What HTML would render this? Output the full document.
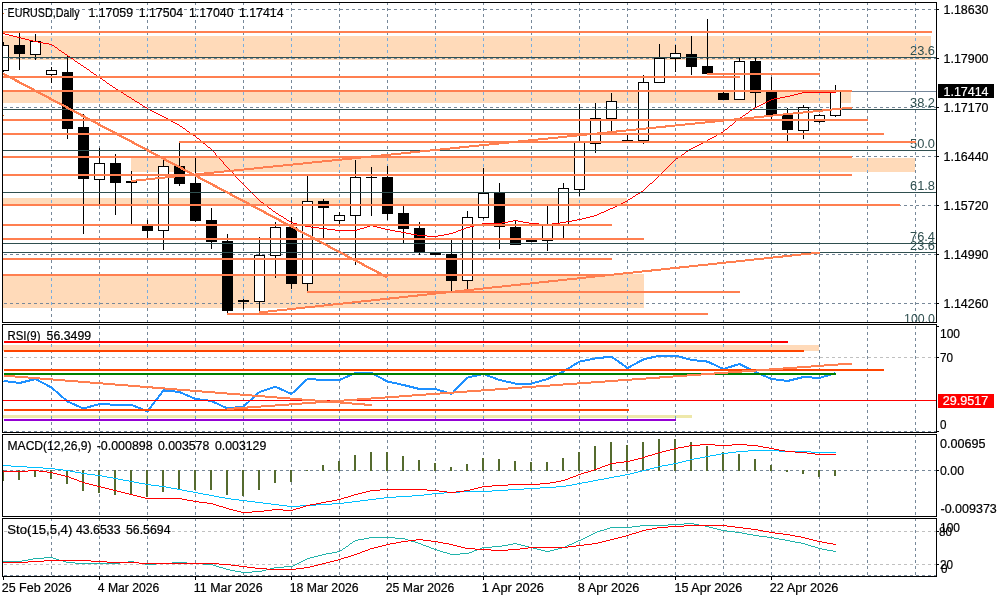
<!DOCTYPE html>
<html lang="en">
<head>
<meta charset="utf-8">
<title>EURUSD, Daily</title>
<style>
html,body{margin:0;padding:0;background:#fff;}
body{width:1000px;height:600px;overflow:hidden;}
svg{display:block;}
text{font-family:"Liberation Sans",sans-serif;}
</style>
</head>
<body>
<svg width="1000" height="600" viewBox="0 0 1000 600">
<rect x="0" y="0" width="1000" height="600" fill="#fff"/>
<defs><clipPath id="mainclip"><rect x="3" y="3" width="933" height="319"/></clipPath></defs>
<g shape-rendering="crispEdges">
<line x1="51.5" y1="2" x2="51.5" y2="322" stroke="#778899" stroke-width="1" stroke-dasharray="3 3" stroke-dashoffset="0"/>
<line x1="51.5" y1="324" x2="51.5" y2="432" stroke="#778899" stroke-width="1" stroke-dasharray="3 3" stroke-dashoffset="4"/>
<line x1="51.5" y1="434" x2="51.5" y2="516" stroke="#778899" stroke-width="1" stroke-dasharray="3 3" stroke-dashoffset="0"/>
<line x1="51.5" y1="518" x2="51.5" y2="576" stroke="#778899" stroke-width="1" stroke-dasharray="3 3" stroke-dashoffset="0"/>
<line x1="99.5" y1="2" x2="99.5" y2="322" stroke="#778899" stroke-width="1" stroke-dasharray="3 3" stroke-dashoffset="0"/>
<line x1="99.5" y1="324" x2="99.5" y2="432" stroke="#778899" stroke-width="1" stroke-dasharray="3 3" stroke-dashoffset="4"/>
<line x1="99.5" y1="434" x2="99.5" y2="516" stroke="#778899" stroke-width="1" stroke-dasharray="3 3" stroke-dashoffset="0"/>
<line x1="99.5" y1="518" x2="99.5" y2="576" stroke="#778899" stroke-width="1" stroke-dasharray="3 3" stroke-dashoffset="0"/>
<line x1="147.5" y1="2" x2="147.5" y2="322" stroke="#778899" stroke-width="1" stroke-dasharray="3 3" stroke-dashoffset="0"/>
<line x1="147.5" y1="324" x2="147.5" y2="432" stroke="#778899" stroke-width="1" stroke-dasharray="3 3" stroke-dashoffset="4"/>
<line x1="147.5" y1="434" x2="147.5" y2="516" stroke="#778899" stroke-width="1" stroke-dasharray="3 3" stroke-dashoffset="0"/>
<line x1="147.5" y1="518" x2="147.5" y2="576" stroke="#778899" stroke-width="1" stroke-dasharray="3 3" stroke-dashoffset="0"/>
<line x1="195.5" y1="2" x2="195.5" y2="322" stroke="#778899" stroke-width="1" stroke-dasharray="3 3" stroke-dashoffset="0"/>
<line x1="195.5" y1="324" x2="195.5" y2="432" stroke="#778899" stroke-width="1" stroke-dasharray="3 3" stroke-dashoffset="4"/>
<line x1="195.5" y1="434" x2="195.5" y2="516" stroke="#778899" stroke-width="1" stroke-dasharray="3 3" stroke-dashoffset="0"/>
<line x1="195.5" y1="518" x2="195.5" y2="576" stroke="#778899" stroke-width="1" stroke-dasharray="3 3" stroke-dashoffset="0"/>
<line x1="243.5" y1="2" x2="243.5" y2="322" stroke="#778899" stroke-width="1" stroke-dasharray="3 3" stroke-dashoffset="0"/>
<line x1="243.5" y1="324" x2="243.5" y2="432" stroke="#778899" stroke-width="1" stroke-dasharray="3 3" stroke-dashoffset="4"/>
<line x1="243.5" y1="434" x2="243.5" y2="516" stroke="#778899" stroke-width="1" stroke-dasharray="3 3" stroke-dashoffset="0"/>
<line x1="243.5" y1="518" x2="243.5" y2="576" stroke="#778899" stroke-width="1" stroke-dasharray="3 3" stroke-dashoffset="0"/>
<line x1="291.5" y1="2" x2="291.5" y2="322" stroke="#778899" stroke-width="1" stroke-dasharray="3 3" stroke-dashoffset="0"/>
<line x1="291.5" y1="324" x2="291.5" y2="432" stroke="#778899" stroke-width="1" stroke-dasharray="3 3" stroke-dashoffset="4"/>
<line x1="291.5" y1="434" x2="291.5" y2="516" stroke="#778899" stroke-width="1" stroke-dasharray="3 3" stroke-dashoffset="0"/>
<line x1="291.5" y1="518" x2="291.5" y2="576" stroke="#778899" stroke-width="1" stroke-dasharray="3 3" stroke-dashoffset="0"/>
<line x1="339.5" y1="2" x2="339.5" y2="322" stroke="#778899" stroke-width="1" stroke-dasharray="3 3" stroke-dashoffset="0"/>
<line x1="339.5" y1="324" x2="339.5" y2="432" stroke="#778899" stroke-width="1" stroke-dasharray="3 3" stroke-dashoffset="4"/>
<line x1="339.5" y1="434" x2="339.5" y2="516" stroke="#778899" stroke-width="1" stroke-dasharray="3 3" stroke-dashoffset="0"/>
<line x1="339.5" y1="518" x2="339.5" y2="576" stroke="#778899" stroke-width="1" stroke-dasharray="3 3" stroke-dashoffset="0"/>
<line x1="387.5" y1="2" x2="387.5" y2="322" stroke="#778899" stroke-width="1" stroke-dasharray="3 3" stroke-dashoffset="0"/>
<line x1="387.5" y1="324" x2="387.5" y2="432" stroke="#778899" stroke-width="1" stroke-dasharray="3 3" stroke-dashoffset="4"/>
<line x1="387.5" y1="434" x2="387.5" y2="516" stroke="#778899" stroke-width="1" stroke-dasharray="3 3" stroke-dashoffset="0"/>
<line x1="387.5" y1="518" x2="387.5" y2="576" stroke="#778899" stroke-width="1" stroke-dasharray="3 3" stroke-dashoffset="0"/>
<line x1="435.5" y1="2" x2="435.5" y2="322" stroke="#778899" stroke-width="1" stroke-dasharray="3 3" stroke-dashoffset="0"/>
<line x1="435.5" y1="324" x2="435.5" y2="432" stroke="#778899" stroke-width="1" stroke-dasharray="3 3" stroke-dashoffset="4"/>
<line x1="435.5" y1="434" x2="435.5" y2="516" stroke="#778899" stroke-width="1" stroke-dasharray="3 3" stroke-dashoffset="0"/>
<line x1="435.5" y1="518" x2="435.5" y2="576" stroke="#778899" stroke-width="1" stroke-dasharray="3 3" stroke-dashoffset="0"/>
<line x1="483.5" y1="2" x2="483.5" y2="322" stroke="#778899" stroke-width="1" stroke-dasharray="3 3" stroke-dashoffset="0"/>
<line x1="483.5" y1="324" x2="483.5" y2="432" stroke="#778899" stroke-width="1" stroke-dasharray="3 3" stroke-dashoffset="4"/>
<line x1="483.5" y1="434" x2="483.5" y2="516" stroke="#778899" stroke-width="1" stroke-dasharray="3 3" stroke-dashoffset="0"/>
<line x1="483.5" y1="518" x2="483.5" y2="576" stroke="#778899" stroke-width="1" stroke-dasharray="3 3" stroke-dashoffset="0"/>
<line x1="531.5" y1="2" x2="531.5" y2="322" stroke="#778899" stroke-width="1" stroke-dasharray="3 3" stroke-dashoffset="0"/>
<line x1="531.5" y1="324" x2="531.5" y2="432" stroke="#778899" stroke-width="1" stroke-dasharray="3 3" stroke-dashoffset="4"/>
<line x1="531.5" y1="434" x2="531.5" y2="516" stroke="#778899" stroke-width="1" stroke-dasharray="3 3" stroke-dashoffset="0"/>
<line x1="531.5" y1="518" x2="531.5" y2="576" stroke="#778899" stroke-width="1" stroke-dasharray="3 3" stroke-dashoffset="0"/>
<line x1="579.5" y1="2" x2="579.5" y2="322" stroke="#778899" stroke-width="1" stroke-dasharray="3 3" stroke-dashoffset="0"/>
<line x1="579.5" y1="324" x2="579.5" y2="432" stroke="#778899" stroke-width="1" stroke-dasharray="3 3" stroke-dashoffset="4"/>
<line x1="579.5" y1="434" x2="579.5" y2="516" stroke="#778899" stroke-width="1" stroke-dasharray="3 3" stroke-dashoffset="0"/>
<line x1="579.5" y1="518" x2="579.5" y2="576" stroke="#778899" stroke-width="1" stroke-dasharray="3 3" stroke-dashoffset="0"/>
<line x1="627.5" y1="2" x2="627.5" y2="322" stroke="#778899" stroke-width="1" stroke-dasharray="3 3" stroke-dashoffset="0"/>
<line x1="627.5" y1="324" x2="627.5" y2="432" stroke="#778899" stroke-width="1" stroke-dasharray="3 3" stroke-dashoffset="4"/>
<line x1="627.5" y1="434" x2="627.5" y2="516" stroke="#778899" stroke-width="1" stroke-dasharray="3 3" stroke-dashoffset="0"/>
<line x1="627.5" y1="518" x2="627.5" y2="576" stroke="#778899" stroke-width="1" stroke-dasharray="3 3" stroke-dashoffset="0"/>
<line x1="675.5" y1="2" x2="675.5" y2="322" stroke="#778899" stroke-width="1" stroke-dasharray="3 3" stroke-dashoffset="0"/>
<line x1="675.5" y1="324" x2="675.5" y2="432" stroke="#778899" stroke-width="1" stroke-dasharray="3 3" stroke-dashoffset="4"/>
<line x1="675.5" y1="434" x2="675.5" y2="516" stroke="#778899" stroke-width="1" stroke-dasharray="3 3" stroke-dashoffset="0"/>
<line x1="675.5" y1="518" x2="675.5" y2="576" stroke="#778899" stroke-width="1" stroke-dasharray="3 3" stroke-dashoffset="0"/>
<line x1="723.5" y1="2" x2="723.5" y2="322" stroke="#778899" stroke-width="1" stroke-dasharray="3 3" stroke-dashoffset="0"/>
<line x1="723.5" y1="324" x2="723.5" y2="432" stroke="#778899" stroke-width="1" stroke-dasharray="3 3" stroke-dashoffset="4"/>
<line x1="723.5" y1="434" x2="723.5" y2="516" stroke="#778899" stroke-width="1" stroke-dasharray="3 3" stroke-dashoffset="0"/>
<line x1="723.5" y1="518" x2="723.5" y2="576" stroke="#778899" stroke-width="1" stroke-dasharray="3 3" stroke-dashoffset="0"/>
<line x1="771.5" y1="2" x2="771.5" y2="322" stroke="#778899" stroke-width="1" stroke-dasharray="3 3" stroke-dashoffset="0"/>
<line x1="771.5" y1="324" x2="771.5" y2="432" stroke="#778899" stroke-width="1" stroke-dasharray="3 3" stroke-dashoffset="4"/>
<line x1="771.5" y1="434" x2="771.5" y2="516" stroke="#778899" stroke-width="1" stroke-dasharray="3 3" stroke-dashoffset="0"/>
<line x1="771.5" y1="518" x2="771.5" y2="576" stroke="#778899" stroke-width="1" stroke-dasharray="3 3" stroke-dashoffset="0"/>
<line x1="819.5" y1="2" x2="819.5" y2="322" stroke="#778899" stroke-width="1" stroke-dasharray="3 3" stroke-dashoffset="0"/>
<line x1="819.5" y1="324" x2="819.5" y2="432" stroke="#778899" stroke-width="1" stroke-dasharray="3 3" stroke-dashoffset="4"/>
<line x1="819.5" y1="434" x2="819.5" y2="516" stroke="#778899" stroke-width="1" stroke-dasharray="3 3" stroke-dashoffset="0"/>
<line x1="819.5" y1="518" x2="819.5" y2="576" stroke="#778899" stroke-width="1" stroke-dasharray="3 3" stroke-dashoffset="0"/>
<line x1="867.5" y1="2" x2="867.5" y2="322" stroke="#778899" stroke-width="1" stroke-dasharray="3 3" stroke-dashoffset="0"/>
<line x1="867.5" y1="324" x2="867.5" y2="432" stroke="#778899" stroke-width="1" stroke-dasharray="3 3" stroke-dashoffset="4"/>
<line x1="867.5" y1="434" x2="867.5" y2="516" stroke="#778899" stroke-width="1" stroke-dasharray="3 3" stroke-dashoffset="0"/>
<line x1="867.5" y1="518" x2="867.5" y2="576" stroke="#778899" stroke-width="1" stroke-dasharray="3 3" stroke-dashoffset="0"/>
<line x1="915.5" y1="2" x2="915.5" y2="322" stroke="#778899" stroke-width="1" stroke-dasharray="3 3" stroke-dashoffset="0"/>
<line x1="915.5" y1="324" x2="915.5" y2="432" stroke="#778899" stroke-width="1" stroke-dasharray="3 3" stroke-dashoffset="4"/>
<line x1="915.5" y1="434" x2="915.5" y2="516" stroke="#778899" stroke-width="1" stroke-dasharray="3 3" stroke-dashoffset="0"/>
<line x1="915.5" y1="518" x2="915.5" y2="576" stroke="#778899" stroke-width="1" stroke-dasharray="3 3" stroke-dashoffset="0"/>
<line x1="4" y1="357.5" x2="936" y2="357.5" stroke="#C0C0C0" stroke-width="1" stroke-dasharray="3 3"/>
<line x1="4" y1="531.5" x2="936" y2="531.5" stroke="#C0C0C0" stroke-width="1" stroke-dasharray="3 3"/>
<line x1="4" y1="564.5" x2="936" y2="564.5" stroke="#C0C0C0" stroke-width="1" stroke-dasharray="3 3"/>
<defs><clipPath id="pz">
<rect x="3" y="36" width="928" height="24"/>
<rect x="3" y="92" width="848" height="11"/>
<rect x="131" y="158" width="784" height="14"/>
<rect x="3" y="198" width="624" height="6"/>
<rect x="3" y="274" width="641" height="34"/>
<rect x="3" y="345" width="816" height="6"/>
</clipPath></defs>
<rect x="3" y="36" width="928" height="24" fill="#FFDAB9"/>
<rect x="3" y="92" width="848" height="11" fill="#FFDAB9"/>
<rect x="131" y="158" width="784" height="14" fill="#FFDAB9"/>
<rect x="3" y="198" width="624" height="6" fill="#FFDAB9"/>
<rect x="3" y="274" width="641" height="34" fill="#FFDAB9"/>
<rect x="3" y="345" width="816" height="6" fill="#FFDAB9"/>
<g clip-path="url(#pz)">
<line x1="51.5" y1="2" x2="51.5" y2="322" stroke="#77ADDF" stroke-width="1" stroke-dasharray="3 3" stroke-dashoffset="0"/>
<line x1="51.5" y1="324" x2="51.5" y2="432" stroke="#77ADDF" stroke-width="1" stroke-dasharray="3 3" stroke-dashoffset="4"/>
<line x1="51.5" y1="434" x2="51.5" y2="516" stroke="#77ADDF" stroke-width="1" stroke-dasharray="3 3" stroke-dashoffset="0"/>
<line x1="51.5" y1="518" x2="51.5" y2="576" stroke="#77ADDF" stroke-width="1" stroke-dasharray="3 3" stroke-dashoffset="0"/>
<line x1="99.5" y1="2" x2="99.5" y2="322" stroke="#77ADDF" stroke-width="1" stroke-dasharray="3 3" stroke-dashoffset="0"/>
<line x1="99.5" y1="324" x2="99.5" y2="432" stroke="#77ADDF" stroke-width="1" stroke-dasharray="3 3" stroke-dashoffset="4"/>
<line x1="99.5" y1="434" x2="99.5" y2="516" stroke="#77ADDF" stroke-width="1" stroke-dasharray="3 3" stroke-dashoffset="0"/>
<line x1="99.5" y1="518" x2="99.5" y2="576" stroke="#77ADDF" stroke-width="1" stroke-dasharray="3 3" stroke-dashoffset="0"/>
<line x1="147.5" y1="2" x2="147.5" y2="322" stroke="#77ADDF" stroke-width="1" stroke-dasharray="3 3" stroke-dashoffset="0"/>
<line x1="147.5" y1="324" x2="147.5" y2="432" stroke="#77ADDF" stroke-width="1" stroke-dasharray="3 3" stroke-dashoffset="4"/>
<line x1="147.5" y1="434" x2="147.5" y2="516" stroke="#77ADDF" stroke-width="1" stroke-dasharray="3 3" stroke-dashoffset="0"/>
<line x1="147.5" y1="518" x2="147.5" y2="576" stroke="#77ADDF" stroke-width="1" stroke-dasharray="3 3" stroke-dashoffset="0"/>
<line x1="195.5" y1="2" x2="195.5" y2="322" stroke="#77ADDF" stroke-width="1" stroke-dasharray="3 3" stroke-dashoffset="0"/>
<line x1="195.5" y1="324" x2="195.5" y2="432" stroke="#77ADDF" stroke-width="1" stroke-dasharray="3 3" stroke-dashoffset="4"/>
<line x1="195.5" y1="434" x2="195.5" y2="516" stroke="#77ADDF" stroke-width="1" stroke-dasharray="3 3" stroke-dashoffset="0"/>
<line x1="195.5" y1="518" x2="195.5" y2="576" stroke="#77ADDF" stroke-width="1" stroke-dasharray="3 3" stroke-dashoffset="0"/>
<line x1="243.5" y1="2" x2="243.5" y2="322" stroke="#77ADDF" stroke-width="1" stroke-dasharray="3 3" stroke-dashoffset="0"/>
<line x1="243.5" y1="324" x2="243.5" y2="432" stroke="#77ADDF" stroke-width="1" stroke-dasharray="3 3" stroke-dashoffset="4"/>
<line x1="243.5" y1="434" x2="243.5" y2="516" stroke="#77ADDF" stroke-width="1" stroke-dasharray="3 3" stroke-dashoffset="0"/>
<line x1="243.5" y1="518" x2="243.5" y2="576" stroke="#77ADDF" stroke-width="1" stroke-dasharray="3 3" stroke-dashoffset="0"/>
<line x1="291.5" y1="2" x2="291.5" y2="322" stroke="#77ADDF" stroke-width="1" stroke-dasharray="3 3" stroke-dashoffset="0"/>
<line x1="291.5" y1="324" x2="291.5" y2="432" stroke="#77ADDF" stroke-width="1" stroke-dasharray="3 3" stroke-dashoffset="4"/>
<line x1="291.5" y1="434" x2="291.5" y2="516" stroke="#77ADDF" stroke-width="1" stroke-dasharray="3 3" stroke-dashoffset="0"/>
<line x1="291.5" y1="518" x2="291.5" y2="576" stroke="#77ADDF" stroke-width="1" stroke-dasharray="3 3" stroke-dashoffset="0"/>
<line x1="339.5" y1="2" x2="339.5" y2="322" stroke="#77ADDF" stroke-width="1" stroke-dasharray="3 3" stroke-dashoffset="0"/>
<line x1="339.5" y1="324" x2="339.5" y2="432" stroke="#77ADDF" stroke-width="1" stroke-dasharray="3 3" stroke-dashoffset="4"/>
<line x1="339.5" y1="434" x2="339.5" y2="516" stroke="#77ADDF" stroke-width="1" stroke-dasharray="3 3" stroke-dashoffset="0"/>
<line x1="339.5" y1="518" x2="339.5" y2="576" stroke="#77ADDF" stroke-width="1" stroke-dasharray="3 3" stroke-dashoffset="0"/>
<line x1="387.5" y1="2" x2="387.5" y2="322" stroke="#77ADDF" stroke-width="1" stroke-dasharray="3 3" stroke-dashoffset="0"/>
<line x1="387.5" y1="324" x2="387.5" y2="432" stroke="#77ADDF" stroke-width="1" stroke-dasharray="3 3" stroke-dashoffset="4"/>
<line x1="387.5" y1="434" x2="387.5" y2="516" stroke="#77ADDF" stroke-width="1" stroke-dasharray="3 3" stroke-dashoffset="0"/>
<line x1="387.5" y1="518" x2="387.5" y2="576" stroke="#77ADDF" stroke-width="1" stroke-dasharray="3 3" stroke-dashoffset="0"/>
<line x1="435.5" y1="2" x2="435.5" y2="322" stroke="#77ADDF" stroke-width="1" stroke-dasharray="3 3" stroke-dashoffset="0"/>
<line x1="435.5" y1="324" x2="435.5" y2="432" stroke="#77ADDF" stroke-width="1" stroke-dasharray="3 3" stroke-dashoffset="4"/>
<line x1="435.5" y1="434" x2="435.5" y2="516" stroke="#77ADDF" stroke-width="1" stroke-dasharray="3 3" stroke-dashoffset="0"/>
<line x1="435.5" y1="518" x2="435.5" y2="576" stroke="#77ADDF" stroke-width="1" stroke-dasharray="3 3" stroke-dashoffset="0"/>
<line x1="483.5" y1="2" x2="483.5" y2="322" stroke="#77ADDF" stroke-width="1" stroke-dasharray="3 3" stroke-dashoffset="0"/>
<line x1="483.5" y1="324" x2="483.5" y2="432" stroke="#77ADDF" stroke-width="1" stroke-dasharray="3 3" stroke-dashoffset="4"/>
<line x1="483.5" y1="434" x2="483.5" y2="516" stroke="#77ADDF" stroke-width="1" stroke-dasharray="3 3" stroke-dashoffset="0"/>
<line x1="483.5" y1="518" x2="483.5" y2="576" stroke="#77ADDF" stroke-width="1" stroke-dasharray="3 3" stroke-dashoffset="0"/>
<line x1="531.5" y1="2" x2="531.5" y2="322" stroke="#77ADDF" stroke-width="1" stroke-dasharray="3 3" stroke-dashoffset="0"/>
<line x1="531.5" y1="324" x2="531.5" y2="432" stroke="#77ADDF" stroke-width="1" stroke-dasharray="3 3" stroke-dashoffset="4"/>
<line x1="531.5" y1="434" x2="531.5" y2="516" stroke="#77ADDF" stroke-width="1" stroke-dasharray="3 3" stroke-dashoffset="0"/>
<line x1="531.5" y1="518" x2="531.5" y2="576" stroke="#77ADDF" stroke-width="1" stroke-dasharray="3 3" stroke-dashoffset="0"/>
<line x1="579.5" y1="2" x2="579.5" y2="322" stroke="#77ADDF" stroke-width="1" stroke-dasharray="3 3" stroke-dashoffset="0"/>
<line x1="579.5" y1="324" x2="579.5" y2="432" stroke="#77ADDF" stroke-width="1" stroke-dasharray="3 3" stroke-dashoffset="4"/>
<line x1="579.5" y1="434" x2="579.5" y2="516" stroke="#77ADDF" stroke-width="1" stroke-dasharray="3 3" stroke-dashoffset="0"/>
<line x1="579.5" y1="518" x2="579.5" y2="576" stroke="#77ADDF" stroke-width="1" stroke-dasharray="3 3" stroke-dashoffset="0"/>
<line x1="627.5" y1="2" x2="627.5" y2="322" stroke="#77ADDF" stroke-width="1" stroke-dasharray="3 3" stroke-dashoffset="0"/>
<line x1="627.5" y1="324" x2="627.5" y2="432" stroke="#77ADDF" stroke-width="1" stroke-dasharray="3 3" stroke-dashoffset="4"/>
<line x1="627.5" y1="434" x2="627.5" y2="516" stroke="#77ADDF" stroke-width="1" stroke-dasharray="3 3" stroke-dashoffset="0"/>
<line x1="627.5" y1="518" x2="627.5" y2="576" stroke="#77ADDF" stroke-width="1" stroke-dasharray="3 3" stroke-dashoffset="0"/>
<line x1="675.5" y1="2" x2="675.5" y2="322" stroke="#77ADDF" stroke-width="1" stroke-dasharray="3 3" stroke-dashoffset="0"/>
<line x1="675.5" y1="324" x2="675.5" y2="432" stroke="#77ADDF" stroke-width="1" stroke-dasharray="3 3" stroke-dashoffset="4"/>
<line x1="675.5" y1="434" x2="675.5" y2="516" stroke="#77ADDF" stroke-width="1" stroke-dasharray="3 3" stroke-dashoffset="0"/>
<line x1="675.5" y1="518" x2="675.5" y2="576" stroke="#77ADDF" stroke-width="1" stroke-dasharray="3 3" stroke-dashoffset="0"/>
<line x1="723.5" y1="2" x2="723.5" y2="322" stroke="#77ADDF" stroke-width="1" stroke-dasharray="3 3" stroke-dashoffset="0"/>
<line x1="723.5" y1="324" x2="723.5" y2="432" stroke="#77ADDF" stroke-width="1" stroke-dasharray="3 3" stroke-dashoffset="4"/>
<line x1="723.5" y1="434" x2="723.5" y2="516" stroke="#77ADDF" stroke-width="1" stroke-dasharray="3 3" stroke-dashoffset="0"/>
<line x1="723.5" y1="518" x2="723.5" y2="576" stroke="#77ADDF" stroke-width="1" stroke-dasharray="3 3" stroke-dashoffset="0"/>
<line x1="771.5" y1="2" x2="771.5" y2="322" stroke="#77ADDF" stroke-width="1" stroke-dasharray="3 3" stroke-dashoffset="0"/>
<line x1="771.5" y1="324" x2="771.5" y2="432" stroke="#77ADDF" stroke-width="1" stroke-dasharray="3 3" stroke-dashoffset="4"/>
<line x1="771.5" y1="434" x2="771.5" y2="516" stroke="#77ADDF" stroke-width="1" stroke-dasharray="3 3" stroke-dashoffset="0"/>
<line x1="771.5" y1="518" x2="771.5" y2="576" stroke="#77ADDF" stroke-width="1" stroke-dasharray="3 3" stroke-dashoffset="0"/>
<line x1="819.5" y1="2" x2="819.5" y2="322" stroke="#77ADDF" stroke-width="1" stroke-dasharray="3 3" stroke-dashoffset="0"/>
<line x1="819.5" y1="324" x2="819.5" y2="432" stroke="#77ADDF" stroke-width="1" stroke-dasharray="3 3" stroke-dashoffset="4"/>
<line x1="819.5" y1="434" x2="819.5" y2="516" stroke="#77ADDF" stroke-width="1" stroke-dasharray="3 3" stroke-dashoffset="0"/>
<line x1="819.5" y1="518" x2="819.5" y2="576" stroke="#77ADDF" stroke-width="1" stroke-dasharray="3 3" stroke-dashoffset="0"/>
<line x1="867.5" y1="2" x2="867.5" y2="322" stroke="#77ADDF" stroke-width="1" stroke-dasharray="3 3" stroke-dashoffset="0"/>
<line x1="867.5" y1="324" x2="867.5" y2="432" stroke="#77ADDF" stroke-width="1" stroke-dasharray="3 3" stroke-dashoffset="4"/>
<line x1="867.5" y1="434" x2="867.5" y2="516" stroke="#77ADDF" stroke-width="1" stroke-dasharray="3 3" stroke-dashoffset="0"/>
<line x1="867.5" y1="518" x2="867.5" y2="576" stroke="#77ADDF" stroke-width="1" stroke-dasharray="3 3" stroke-dashoffset="0"/>
<line x1="915.5" y1="2" x2="915.5" y2="322" stroke="#77ADDF" stroke-width="1" stroke-dasharray="3 3" stroke-dashoffset="0"/>
<line x1="915.5" y1="324" x2="915.5" y2="432" stroke="#77ADDF" stroke-width="1" stroke-dasharray="3 3" stroke-dashoffset="4"/>
<line x1="915.5" y1="434" x2="915.5" y2="516" stroke="#77ADDF" stroke-width="1" stroke-dasharray="3 3" stroke-dashoffset="0"/>
<line x1="915.5" y1="518" x2="915.5" y2="576" stroke="#77ADDF" stroke-width="1" stroke-dasharray="3 3" stroke-dashoffset="0"/>
</g>
<line x1="4" y1="9.5" x2="936" y2="9.5" stroke="#778899" stroke-width="1" stroke-dasharray="3 3"/>
<line x1="4" y1="58.5" x2="936" y2="58.5" stroke="#778899" stroke-width="1" stroke-dasharray="3 3"/>
<line x1="4" y1="107.5" x2="936" y2="107.5" stroke="#778899" stroke-width="1" stroke-dasharray="3 3"/>
<line x1="4" y1="156.5" x2="936" y2="156.5" stroke="#778899" stroke-width="1" stroke-dasharray="3 3"/>
<line x1="4" y1="205.5" x2="936" y2="205.5" stroke="#778899" stroke-width="1" stroke-dasharray="3 3"/>
<line x1="4" y1="254.5" x2="936" y2="254.5" stroke="#778899" stroke-width="1" stroke-dasharray="3 3"/>
<line x1="4" y1="303.5" x2="936" y2="303.5" stroke="#778899" stroke-width="1" stroke-dasharray="3 3"/>
<line x1="4" y1="431.5" x2="936" y2="431.5" stroke="#778899" stroke-width="1" stroke-dasharray="3 3"/>
<line x1="4" y1="470.5" x2="936" y2="470.5" stroke="#778899" stroke-width="1" stroke-dasharray="3 3"/>
<line x1="4" y1="575.5" x2="936" y2="575.5" stroke="#778899" stroke-width="1" stroke-dasharray="3 3"/>
<rect x="3" y="415" width="689" height="3" fill="#EEE8AA"/>
<defs><clipPath id="bd0"><rect x="3" y="415" width="689" height="3"/></clipPath></defs>
<g clip-path="url(#bd0)">
<line x1="51.5" y1="2" x2="51.5" y2="322" stroke="#669FCC" stroke-width="1" stroke-dasharray="3 3" stroke-dashoffset="0"/>
<line x1="51.5" y1="324" x2="51.5" y2="432" stroke="#669FCC" stroke-width="1" stroke-dasharray="3 3" stroke-dashoffset="4"/>
<line x1="51.5" y1="434" x2="51.5" y2="516" stroke="#669FCC" stroke-width="1" stroke-dasharray="3 3" stroke-dashoffset="0"/>
<line x1="51.5" y1="518" x2="51.5" y2="576" stroke="#669FCC" stroke-width="1" stroke-dasharray="3 3" stroke-dashoffset="0"/>
<line x1="99.5" y1="2" x2="99.5" y2="322" stroke="#669FCC" stroke-width="1" stroke-dasharray="3 3" stroke-dashoffset="0"/>
<line x1="99.5" y1="324" x2="99.5" y2="432" stroke="#669FCC" stroke-width="1" stroke-dasharray="3 3" stroke-dashoffset="4"/>
<line x1="99.5" y1="434" x2="99.5" y2="516" stroke="#669FCC" stroke-width="1" stroke-dasharray="3 3" stroke-dashoffset="0"/>
<line x1="99.5" y1="518" x2="99.5" y2="576" stroke="#669FCC" stroke-width="1" stroke-dasharray="3 3" stroke-dashoffset="0"/>
<line x1="147.5" y1="2" x2="147.5" y2="322" stroke="#669FCC" stroke-width="1" stroke-dasharray="3 3" stroke-dashoffset="0"/>
<line x1="147.5" y1="324" x2="147.5" y2="432" stroke="#669FCC" stroke-width="1" stroke-dasharray="3 3" stroke-dashoffset="4"/>
<line x1="147.5" y1="434" x2="147.5" y2="516" stroke="#669FCC" stroke-width="1" stroke-dasharray="3 3" stroke-dashoffset="0"/>
<line x1="147.5" y1="518" x2="147.5" y2="576" stroke="#669FCC" stroke-width="1" stroke-dasharray="3 3" stroke-dashoffset="0"/>
<line x1="195.5" y1="2" x2="195.5" y2="322" stroke="#669FCC" stroke-width="1" stroke-dasharray="3 3" stroke-dashoffset="0"/>
<line x1="195.5" y1="324" x2="195.5" y2="432" stroke="#669FCC" stroke-width="1" stroke-dasharray="3 3" stroke-dashoffset="4"/>
<line x1="195.5" y1="434" x2="195.5" y2="516" stroke="#669FCC" stroke-width="1" stroke-dasharray="3 3" stroke-dashoffset="0"/>
<line x1="195.5" y1="518" x2="195.5" y2="576" stroke="#669FCC" stroke-width="1" stroke-dasharray="3 3" stroke-dashoffset="0"/>
<line x1="243.5" y1="2" x2="243.5" y2="322" stroke="#669FCC" stroke-width="1" stroke-dasharray="3 3" stroke-dashoffset="0"/>
<line x1="243.5" y1="324" x2="243.5" y2="432" stroke="#669FCC" stroke-width="1" stroke-dasharray="3 3" stroke-dashoffset="4"/>
<line x1="243.5" y1="434" x2="243.5" y2="516" stroke="#669FCC" stroke-width="1" stroke-dasharray="3 3" stroke-dashoffset="0"/>
<line x1="243.5" y1="518" x2="243.5" y2="576" stroke="#669FCC" stroke-width="1" stroke-dasharray="3 3" stroke-dashoffset="0"/>
<line x1="291.5" y1="2" x2="291.5" y2="322" stroke="#669FCC" stroke-width="1" stroke-dasharray="3 3" stroke-dashoffset="0"/>
<line x1="291.5" y1="324" x2="291.5" y2="432" stroke="#669FCC" stroke-width="1" stroke-dasharray="3 3" stroke-dashoffset="4"/>
<line x1="291.5" y1="434" x2="291.5" y2="516" stroke="#669FCC" stroke-width="1" stroke-dasharray="3 3" stroke-dashoffset="0"/>
<line x1="291.5" y1="518" x2="291.5" y2="576" stroke="#669FCC" stroke-width="1" stroke-dasharray="3 3" stroke-dashoffset="0"/>
<line x1="339.5" y1="2" x2="339.5" y2="322" stroke="#669FCC" stroke-width="1" stroke-dasharray="3 3" stroke-dashoffset="0"/>
<line x1="339.5" y1="324" x2="339.5" y2="432" stroke="#669FCC" stroke-width="1" stroke-dasharray="3 3" stroke-dashoffset="4"/>
<line x1="339.5" y1="434" x2="339.5" y2="516" stroke="#669FCC" stroke-width="1" stroke-dasharray="3 3" stroke-dashoffset="0"/>
<line x1="339.5" y1="518" x2="339.5" y2="576" stroke="#669FCC" stroke-width="1" stroke-dasharray="3 3" stroke-dashoffset="0"/>
<line x1="387.5" y1="2" x2="387.5" y2="322" stroke="#669FCC" stroke-width="1" stroke-dasharray="3 3" stroke-dashoffset="0"/>
<line x1="387.5" y1="324" x2="387.5" y2="432" stroke="#669FCC" stroke-width="1" stroke-dasharray="3 3" stroke-dashoffset="4"/>
<line x1="387.5" y1="434" x2="387.5" y2="516" stroke="#669FCC" stroke-width="1" stroke-dasharray="3 3" stroke-dashoffset="0"/>
<line x1="387.5" y1="518" x2="387.5" y2="576" stroke="#669FCC" stroke-width="1" stroke-dasharray="3 3" stroke-dashoffset="0"/>
<line x1="435.5" y1="2" x2="435.5" y2="322" stroke="#669FCC" stroke-width="1" stroke-dasharray="3 3" stroke-dashoffset="0"/>
<line x1="435.5" y1="324" x2="435.5" y2="432" stroke="#669FCC" stroke-width="1" stroke-dasharray="3 3" stroke-dashoffset="4"/>
<line x1="435.5" y1="434" x2="435.5" y2="516" stroke="#669FCC" stroke-width="1" stroke-dasharray="3 3" stroke-dashoffset="0"/>
<line x1="435.5" y1="518" x2="435.5" y2="576" stroke="#669FCC" stroke-width="1" stroke-dasharray="3 3" stroke-dashoffset="0"/>
<line x1="483.5" y1="2" x2="483.5" y2="322" stroke="#669FCC" stroke-width="1" stroke-dasharray="3 3" stroke-dashoffset="0"/>
<line x1="483.5" y1="324" x2="483.5" y2="432" stroke="#669FCC" stroke-width="1" stroke-dasharray="3 3" stroke-dashoffset="4"/>
<line x1="483.5" y1="434" x2="483.5" y2="516" stroke="#669FCC" stroke-width="1" stroke-dasharray="3 3" stroke-dashoffset="0"/>
<line x1="483.5" y1="518" x2="483.5" y2="576" stroke="#669FCC" stroke-width="1" stroke-dasharray="3 3" stroke-dashoffset="0"/>
<line x1="531.5" y1="2" x2="531.5" y2="322" stroke="#669FCC" stroke-width="1" stroke-dasharray="3 3" stroke-dashoffset="0"/>
<line x1="531.5" y1="324" x2="531.5" y2="432" stroke="#669FCC" stroke-width="1" stroke-dasharray="3 3" stroke-dashoffset="4"/>
<line x1="531.5" y1="434" x2="531.5" y2="516" stroke="#669FCC" stroke-width="1" stroke-dasharray="3 3" stroke-dashoffset="0"/>
<line x1="531.5" y1="518" x2="531.5" y2="576" stroke="#669FCC" stroke-width="1" stroke-dasharray="3 3" stroke-dashoffset="0"/>
<line x1="579.5" y1="2" x2="579.5" y2="322" stroke="#669FCC" stroke-width="1" stroke-dasharray="3 3" stroke-dashoffset="0"/>
<line x1="579.5" y1="324" x2="579.5" y2="432" stroke="#669FCC" stroke-width="1" stroke-dasharray="3 3" stroke-dashoffset="4"/>
<line x1="579.5" y1="434" x2="579.5" y2="516" stroke="#669FCC" stroke-width="1" stroke-dasharray="3 3" stroke-dashoffset="0"/>
<line x1="579.5" y1="518" x2="579.5" y2="576" stroke="#669FCC" stroke-width="1" stroke-dasharray="3 3" stroke-dashoffset="0"/>
<line x1="627.5" y1="2" x2="627.5" y2="322" stroke="#669FCC" stroke-width="1" stroke-dasharray="3 3" stroke-dashoffset="0"/>
<line x1="627.5" y1="324" x2="627.5" y2="432" stroke="#669FCC" stroke-width="1" stroke-dasharray="3 3" stroke-dashoffset="4"/>
<line x1="627.5" y1="434" x2="627.5" y2="516" stroke="#669FCC" stroke-width="1" stroke-dasharray="3 3" stroke-dashoffset="0"/>
<line x1="627.5" y1="518" x2="627.5" y2="576" stroke="#669FCC" stroke-width="1" stroke-dasharray="3 3" stroke-dashoffset="0"/>
<line x1="675.5" y1="2" x2="675.5" y2="322" stroke="#669FCC" stroke-width="1" stroke-dasharray="3 3" stroke-dashoffset="0"/>
<line x1="675.5" y1="324" x2="675.5" y2="432" stroke="#669FCC" stroke-width="1" stroke-dasharray="3 3" stroke-dashoffset="4"/>
<line x1="675.5" y1="434" x2="675.5" y2="516" stroke="#669FCC" stroke-width="1" stroke-dasharray="3 3" stroke-dashoffset="0"/>
<line x1="675.5" y1="518" x2="675.5" y2="576" stroke="#669FCC" stroke-width="1" stroke-dasharray="3 3" stroke-dashoffset="0"/>
<line x1="723.5" y1="2" x2="723.5" y2="322" stroke="#669FCC" stroke-width="1" stroke-dasharray="3 3" stroke-dashoffset="0"/>
<line x1="723.5" y1="324" x2="723.5" y2="432" stroke="#669FCC" stroke-width="1" stroke-dasharray="3 3" stroke-dashoffset="4"/>
<line x1="723.5" y1="434" x2="723.5" y2="516" stroke="#669FCC" stroke-width="1" stroke-dasharray="3 3" stroke-dashoffset="0"/>
<line x1="723.5" y1="518" x2="723.5" y2="576" stroke="#669FCC" stroke-width="1" stroke-dasharray="3 3" stroke-dashoffset="0"/>
<line x1="771.5" y1="2" x2="771.5" y2="322" stroke="#669FCC" stroke-width="1" stroke-dasharray="3 3" stroke-dashoffset="0"/>
<line x1="771.5" y1="324" x2="771.5" y2="432" stroke="#669FCC" stroke-width="1" stroke-dasharray="3 3" stroke-dashoffset="4"/>
<line x1="771.5" y1="434" x2="771.5" y2="516" stroke="#669FCC" stroke-width="1" stroke-dasharray="3 3" stroke-dashoffset="0"/>
<line x1="771.5" y1="518" x2="771.5" y2="576" stroke="#669FCC" stroke-width="1" stroke-dasharray="3 3" stroke-dashoffset="0"/>
<line x1="819.5" y1="2" x2="819.5" y2="322" stroke="#669FCC" stroke-width="1" stroke-dasharray="3 3" stroke-dashoffset="0"/>
<line x1="819.5" y1="324" x2="819.5" y2="432" stroke="#669FCC" stroke-width="1" stroke-dasharray="3 3" stroke-dashoffset="4"/>
<line x1="819.5" y1="434" x2="819.5" y2="516" stroke="#669FCC" stroke-width="1" stroke-dasharray="3 3" stroke-dashoffset="0"/>
<line x1="819.5" y1="518" x2="819.5" y2="576" stroke="#669FCC" stroke-width="1" stroke-dasharray="3 3" stroke-dashoffset="0"/>
<line x1="867.5" y1="2" x2="867.5" y2="322" stroke="#669FCC" stroke-width="1" stroke-dasharray="3 3" stroke-dashoffset="0"/>
<line x1="867.5" y1="324" x2="867.5" y2="432" stroke="#669FCC" stroke-width="1" stroke-dasharray="3 3" stroke-dashoffset="4"/>
<line x1="867.5" y1="434" x2="867.5" y2="516" stroke="#669FCC" stroke-width="1" stroke-dasharray="3 3" stroke-dashoffset="0"/>
<line x1="867.5" y1="518" x2="867.5" y2="576" stroke="#669FCC" stroke-width="1" stroke-dasharray="3 3" stroke-dashoffset="0"/>
<line x1="915.5" y1="2" x2="915.5" y2="322" stroke="#669FCC" stroke-width="1" stroke-dasharray="3 3" stroke-dashoffset="0"/>
<line x1="915.5" y1="324" x2="915.5" y2="432" stroke="#669FCC" stroke-width="1" stroke-dasharray="3 3" stroke-dashoffset="4"/>
<line x1="915.5" y1="434" x2="915.5" y2="516" stroke="#669FCC" stroke-width="1" stroke-dasharray="3 3" stroke-dashoffset="0"/>
<line x1="915.5" y1="518" x2="915.5" y2="576" stroke="#669FCC" stroke-width="1" stroke-dasharray="3 3" stroke-dashoffset="0"/>
</g>
<rect x="3" y="42" width="1" height="30" fill="#000"/>
<rect x="3" y="45" width="6" height="26" fill="#000"/>
<rect x="3" y="46" width="5" height="24" fill="#fff"/>
<rect x="19" y="33" width="1" height="37" fill="#000"/>
<rect x="14" y="45" width="11" height="9" fill="#000"/>
<rect x="35" y="34" width="1" height="26" fill="#000"/>
<rect x="30" y="41" width="11" height="14" fill="#000"/>
<rect x="31" y="42" width="9" height="12" fill="#fff"/>
<rect x="51" y="67" width="1" height="16" fill="#000"/>
<rect x="46" y="70" width="11" height="5" fill="#000"/>
<rect x="47" y="71" width="9" height="3" fill="#fff"/>
<rect x="67" y="55" width="1" height="84" fill="#000"/>
<rect x="62" y="72" width="11" height="57" fill="#000"/>
<rect x="83" y="114" width="1" height="120" fill="#000"/>
<rect x="78" y="127" width="11" height="52" fill="#000"/>
<rect x="99" y="148" width="1" height="56" fill="#000"/>
<rect x="94" y="163" width="11" height="17" fill="#000"/>
<rect x="95" y="164" width="9" height="15" fill="#fff"/>
<rect x="115" y="154" width="1" height="61" fill="#000"/>
<rect x="110" y="163" width="11" height="20" fill="#000"/>
<rect x="131" y="171" width="1" height="54" fill="#000"/>
<rect x="126" y="181" width="11" height="2" fill="#000"/>
<rect x="147" y="220" width="1" height="18" fill="#000"/>
<rect x="142" y="226" width="11" height="5" fill="#000"/>
<rect x="163" y="159" width="1" height="91" fill="#000"/>
<rect x="158" y="166" width="11" height="65" fill="#000"/>
<rect x="159" y="167" width="9" height="63" fill="#fff"/>
<rect x="179" y="142" width="1" height="44" fill="#000"/>
<rect x="174" y="166" width="11" height="18" fill="#000"/>
<rect x="195" y="158" width="1" height="64" fill="#000"/>
<rect x="190" y="183" width="11" height="38" fill="#000"/>
<rect x="211" y="208" width="1" height="41" fill="#000"/>
<rect x="206" y="220" width="11" height="22" fill="#000"/>
<rect x="227" y="234" width="1" height="79" fill="#000"/>
<rect x="222" y="241" width="11" height="70" fill="#000"/>
<rect x="243" y="299" width="1" height="10" fill="#000"/>
<rect x="238" y="300" width="11" height="2" fill="#000"/>
<rect x="259" y="237" width="1" height="76" fill="#000"/>
<rect x="254" y="255" width="11" height="47" fill="#000"/>
<rect x="255" y="256" width="9" height="45" fill="#fff"/>
<rect x="275" y="222" width="1" height="56" fill="#000"/>
<rect x="270" y="227" width="11" height="29" fill="#000"/>
<rect x="271" y="228" width="9" height="27" fill="#fff"/>
<rect x="291" y="217" width="1" height="72" fill="#000"/>
<rect x="286" y="227" width="11" height="57" fill="#000"/>
<rect x="307" y="176" width="1" height="116" fill="#000"/>
<rect x="302" y="201" width="11" height="83" fill="#000"/>
<rect x="303" y="202" width="9" height="81" fill="#fff"/>
<rect x="323" y="199" width="1" height="40" fill="#000"/>
<rect x="318" y="201" width="11" height="7" fill="#000"/>
<rect x="339" y="212" width="1" height="12" fill="#000"/>
<rect x="334" y="215" width="11" height="6" fill="#000"/>
<rect x="335" y="216" width="9" height="4" fill="#fff"/>
<rect x="355" y="160" width="1" height="105" fill="#000"/>
<rect x="350" y="177" width="11" height="39" fill="#000"/>
<rect x="351" y="178" width="9" height="37" fill="#fff"/>
<rect x="371" y="167" width="1" height="49" fill="#000"/>
<rect x="366" y="177" width="11" height="1" fill="#000"/>
<rect x="387" y="166" width="1" height="54" fill="#000"/>
<rect x="382" y="177" width="11" height="37" fill="#000"/>
<rect x="403" y="206" width="1" height="37" fill="#000"/>
<rect x="398" y="213" width="11" height="16" fill="#000"/>
<rect x="419" y="222" width="1" height="33" fill="#000"/>
<rect x="414" y="228" width="11" height="25" fill="#000"/>
<rect x="435" y="253" width="1" height="2" fill="#000"/>
<rect x="430" y="253" width="11" height="2" fill="#000"/>
<rect x="451" y="240" width="1" height="52" fill="#000"/>
<rect x="446" y="254" width="11" height="27" fill="#000"/>
<rect x="467" y="211" width="1" height="79" fill="#000"/>
<rect x="462" y="217" width="11" height="64" fill="#000"/>
<rect x="463" y="218" width="9" height="62" fill="#fff"/>
<rect x="483" y="168" width="1" height="51" fill="#000"/>
<rect x="478" y="193" width="11" height="25" fill="#000"/>
<rect x="479" y="194" width="9" height="23" fill="#fff"/>
<rect x="499" y="183" width="1" height="66" fill="#000"/>
<rect x="494" y="193" width="11" height="34" fill="#000"/>
<rect x="515" y="220" width="1" height="25" fill="#000"/>
<rect x="510" y="227" width="11" height="18" fill="#000"/>
<rect x="531" y="240" width="1" height="2" fill="#000"/>
<rect x="526" y="240" width="11" height="2" fill="#000"/>
<rect x="547" y="206" width="1" height="45" fill="#000"/>
<rect x="542" y="225" width="11" height="16" fill="#000"/>
<rect x="543" y="226" width="9" height="14" fill="#fff"/>
<rect x="563" y="183" width="1" height="55" fill="#000"/>
<rect x="558" y="188" width="11" height="37" fill="#000"/>
<rect x="559" y="189" width="9" height="35" fill="#fff"/>
<rect x="579" y="104" width="1" height="92" fill="#000"/>
<rect x="574" y="142" width="11" height="48" fill="#000"/>
<rect x="575" y="143" width="9" height="46" fill="#fff"/>
<rect x="595" y="103" width="1" height="50" fill="#000"/>
<rect x="590" y="118" width="11" height="26" fill="#000"/>
<rect x="591" y="119" width="9" height="24" fill="#fff"/>
<rect x="611" y="93" width="1" height="38" fill="#000"/>
<rect x="606" y="101" width="11" height="18" fill="#000"/>
<rect x="607" y="102" width="9" height="16" fill="#fff"/>
<rect x="627" y="135" width="1" height="6" fill="#000"/>
<rect x="622" y="140" width="11" height="1" fill="#000"/>
<rect x="643" y="75" width="1" height="69" fill="#000"/>
<rect x="638" y="82" width="11" height="59" fill="#000"/>
<rect x="639" y="83" width="9" height="57" fill="#fff"/>
<rect x="659" y="44" width="1" height="39" fill="#000"/>
<rect x="654" y="58" width="11" height="25" fill="#000"/>
<rect x="655" y="59" width="9" height="23" fill="#fff"/>
<rect x="675" y="45" width="1" height="27" fill="#000"/>
<rect x="670" y="53" width="11" height="6" fill="#000"/>
<rect x="671" y="54" width="9" height="4" fill="#fff"/>
<rect x="691" y="36" width="1" height="39" fill="#000"/>
<rect x="686" y="54" width="11" height="13" fill="#000"/>
<rect x="707" y="19" width="1" height="55" fill="#000"/>
<rect x="702" y="66" width="11" height="8" fill="#000"/>
<rect x="723" y="92" width="1" height="8" fill="#000"/>
<rect x="718" y="93" width="11" height="7" fill="#000"/>
<rect x="739" y="58" width="1" height="42" fill="#000"/>
<rect x="734" y="61" width="11" height="39" fill="#000"/>
<rect x="735" y="62" width="9" height="37" fill="#fff"/>
<rect x="755" y="58" width="1" height="50" fill="#000"/>
<rect x="750" y="61" width="11" height="32" fill="#000"/>
<rect x="771" y="77" width="1" height="42" fill="#000"/>
<rect x="766" y="92" width="11" height="23" fill="#000"/>
<rect x="787" y="108" width="1" height="33" fill="#000"/>
<rect x="782" y="115" width="11" height="15" fill="#000"/>
<rect x="803" y="105" width="1" height="34" fill="#000"/>
<rect x="798" y="107" width="11" height="24" fill="#000"/>
<rect x="799" y="108" width="9" height="22" fill="#fff"/>
<rect x="819" y="114" width="1" height="9" fill="#000"/>
<rect x="814" y="115" width="11" height="7" fill="#000"/>
<rect x="815" y="116" width="9" height="5" fill="#fff"/>
<rect x="835" y="85" width="1" height="32" fill="#000"/>
<rect x="830" y="91" width="11" height="25" fill="#000"/>
<rect x="831" y="92" width="9" height="23" fill="#fff"/>
</g>
<g font-family="'Liberation Sans', sans-serif" font-size="12" style="white-space:pre">
<text x="7.5" y="17" fill="#000" stroke="#000" stroke-width="0.2" text-anchor="start" font-size="12" textLength="72" lengthAdjust="spacingAndGlyphs" >EURUSD,Daily</text>
<text x="88.5" y="17" fill="#000" stroke="#000" stroke-width="0.2" text-anchor="start" font-size="12" textLength="44.5" lengthAdjust="spacingAndGlyphs" >1.17059</text>
<text x="138.7" y="17" fill="#000" stroke="#000" stroke-width="0.2" text-anchor="start" font-size="12" textLength="44.5" lengthAdjust="spacingAndGlyphs" >1.17504</text>
<text x="189" y="17" fill="#000" stroke="#000" stroke-width="0.2" text-anchor="start" font-size="12" textLength="44.5" lengthAdjust="spacingAndGlyphs" >1.17040</text>
<text x="239" y="17" fill="#000" stroke="#000" stroke-width="0.2" text-anchor="start" font-size="12" textLength="44.5" lengthAdjust="spacingAndGlyphs" >1.17414</text>
<text x="7.5" y="340" fill="#000" stroke="#000" stroke-width="0.2" text-anchor="start" font-size="12" textLength="33" lengthAdjust="spacingAndGlyphs" >RSI(9)</text>
<text x="46.6" y="340" fill="#000" stroke="#000" stroke-width="0.2" text-anchor="start" font-size="12" textLength="44.5" lengthAdjust="spacingAndGlyphs" >56.3499</text>
<text x="7.5" y="450" fill="#000" stroke="#000" stroke-width="0.2" text-anchor="start" font-size="12" textLength="84" lengthAdjust="spacingAndGlyphs" >MACD(12,26,9)</text>
<text x="96.7" y="450" fill="#000" stroke="#000" stroke-width="0.2" text-anchor="start" font-size="12" textLength="56" lengthAdjust="spacingAndGlyphs" >-0.000898</text>
<text x="158" y="450" fill="#000" stroke="#000" stroke-width="0.2" text-anchor="start" font-size="12" textLength="51.3" lengthAdjust="spacingAndGlyphs" >0.003578</text>
<text x="215" y="450" fill="#000" stroke="#000" stroke-width="0.2" text-anchor="start" font-size="12" textLength="51.3" lengthAdjust="spacingAndGlyphs" >0.003129</text>
<text x="7.3" y="534" fill="#000" stroke="#000" stroke-width="0.2" text-anchor="start" font-size="12" textLength="65" lengthAdjust="spacingAndGlyphs" >Sto(15,5,4)</text>
<text x="76" y="534" fill="#000" stroke="#000" stroke-width="0.2" text-anchor="start" font-size="12" textLength="44.5" lengthAdjust="spacingAndGlyphs" >43.6533</text>
<text x="126" y="534" fill="#000" stroke="#000" stroke-width="0.2" text-anchor="start" font-size="12" textLength="44.5" lengthAdjust="spacingAndGlyphs" >56.5694</text>
</g>
<g shape-rendering="crispEdges">
<polyline points="3.50,381.00 19.50,383.00 35.50,379.00 51.50,387.50 67.50,401.50 83.50,408.50 99.50,404.00 115.50,404.80 131.50,404.80 147.50,411.30 163.50,390.40 179.50,392.00 195.50,399.00 211.50,401.00 227.50,408.50 243.50,406.50 259.50,392.00 275.50,386.70 291.50,394.00 307.50,379.00 323.50,380.00 339.50,380.00 355.50,373.00 371.50,373.00 387.50,381.50 403.50,385.00 419.50,389.00 435.50,389.00 451.50,394.00 467.50,377.60 483.50,374.00 499.50,380.00 515.50,383.60 531.50,383.60 547.50,379.00 563.50,371.50 579.50,361.60 595.50,358.40 611.50,356.60 627.50,368.00 643.50,359.40 659.50,355.60 675.50,355.60 691.50,360.00 707.50,361.60 723.50,369.00 739.50,364.00 755.50,372.00 771.50,379.00 787.50,381.00 803.50,377.00 819.50,378.00 835.50,373.00" fill="none" stroke="#1E90FF" stroke-width="2" stroke-linejoin="round" />
<path d="M3 33h2v1h-2zM5 34h4v1h-4zM9 35h4v1h-4zM13 36h4v1h-4zM17 37h4v1h-4zM21 38h4v1h-4zM25 39h4v1h-4zM29 40h4v1h-4zM33 41h5v1h-5zM38 42h5v1h-5zM43 43h6v1h-6zM49 44h3v1h-3zM52 45h2v1h-2zM55 47h2v1h-2zM59 50h2v1h-2zM62 52h2v1h-2zM65 54h2v1h-2zM68 56h2v1h-2zM71 58h2v1h-2zM75 61h2v1h-2zM78 63h2v1h-2zM81 65h2v1h-2zM84 67h2v1h-2zM87 69h2v1h-2zM91 72h2v1h-2zM94 74h2v1h-2zM97 76h2v1h-2zM100 78h2v1h-2zM103 80h2v1h-2zM107 83h2v1h-2zM110 85h2v1h-2zM113 87h2v1h-2zM116 89h2v1h-2zM119 91h2v1h-2zM121 92h2v1h-2zM802 92h34v1h-34zM798 93h4v1h-4zM124 94h2v1h-2zM794 94h4v1h-4zM790 95h4v1h-4zM127 96h2v1h-2zM785 96h5v1h-5zM129 97h2v1h-2zM780 97h5v1h-5zM774 98h6v1h-6zM132 99h2v1h-2zM771 99h3v1h-3zM769 100h2v1h-2zM135 101h2v1h-2zM767 101h2v1h-2zM137 102h2v1h-2zM765 102h2v1h-2zM763 103h2v1h-2zM140 104h2v1h-2zM761 104h2v1h-2zM759 105h2v1h-2zM143 106h2v1h-2zM757 106h2v1h-2zM145 107h2v1h-2zM755 107h2v1h-2zM753 108h2v1h-2zM148 109h2v1h-2zM150 110h2v1h-2zM750 110h2v1h-2zM152 111h2v1h-2zM154 112h2v1h-2zM156 113h2v1h-2zM746 113h2v1h-2zM158 114h2v1h-2zM160 115h2v1h-2zM743 115h2v1h-2zM162 116h2v1h-2zM164 117h2v1h-2zM740 117h2v1h-2zM166 118h2v1h-2zM168 119h2v1h-2zM736 120h2v1h-2zM171 121h2v1h-2zM173 122h2v1h-2zM175 123h2v1h-2zM177 124h2v1h-2zM730 125h2v1h-2zM180 126h2v1h-2zM183 128h2v1h-2zM725 129h2v1h-2zM187 131h2v1h-2zM721 132h2v1h-2zM190 133h2v1h-2zM719 133h2v1h-2zM717 134h2v1h-2zM193 135h2v1h-2zM714 136h2v1h-2zM712 137h2v1h-2zM197 138h2v1h-2zM710 138h2v1h-2zM708 139h2v1h-2zM705 141h2v1h-2zM703 142h2v1h-2zM203 143h2v1h-2zM701 143h2v1h-2zM699 144h2v1h-2zM697 145h2v1h-2zM695 146h2v1h-2zM208 147h2v1h-2zM693 147h2v1h-2zM691 148h2v1h-2zM689 149h2v1h-2zM686 151h2v1h-2zM682 154h2v1h-2zM679 156h2v1h-2zM676 158h2v1h-2zM650 183h2v1h-2zM641 191h2v1h-2zM638 193h2v1h-2zM636 194h2v1h-2zM633 196h2v1h-2zM630 198h2v1h-2zM628 199h2v1h-2zM625 201h2v1h-2zM261 202h2v1h-2zM623 202h2v1h-2zM621 203h2v1h-2zM619 204h2v1h-2zM265 205h2v1h-2zM617 205h2v1h-2zM615 206h2v1h-2zM613 207h2v1h-2zM269 208h2v1h-2zM610 208h3v1h-3zM608 209h2v1h-2zM606 210h2v1h-2zM273 211h2v1h-2zM604 211h2v1h-2zM601 212h3v1h-3zM276 213h2v1h-2zM599 213h2v1h-2zM597 214h2v1h-2zM279 215h2v1h-2zM594 215h3v1h-3zM281 216h2v1h-2zM590 216h4v1h-4zM586 217h4v1h-4zM284 218h2v1h-2zM582 218h4v1h-4zM577 219h5v1h-5zM287 220h2v1h-2zM513 220h5v1h-5zM572 220h5v1h-5zM289 221h2v1h-2zM508 221h5v1h-5zM518 221h5v1h-5zM566 221h6v1h-6zM291 222h2v1h-2zM502 222h6v1h-6zM523 222h6v1h-6zM560 222h6v1h-6zM293 223h4v1h-4zM482 223h20v1h-20zM529 223h10v1h-10zM552 223h8v1h-8zM297 224h4v1h-4zM478 224h4v1h-4zM539 224h13v1h-13zM301 225h4v1h-4zM370 225h3v1h-3zM474 225h4v1h-4zM305 226h6v1h-6zM367 226h3v1h-3zM373 226h4v1h-4zM470 226h4v1h-4zM311 227h8v1h-8zM364 227h3v1h-3zM377 227h4v1h-4zM466 227h4v1h-4zM319 228h8v1h-8zM360 228h4v1h-4zM381 228h4v1h-4zM464 228h2v1h-2zM327 229h8v1h-8zM357 229h3v1h-3zM385 229h5v1h-5zM461 229h3v1h-3zM335 230h22v1h-22zM390 230h5v1h-5zM458 230h3v1h-3zM395 231h6v1h-6zM456 231h2v1h-2zM401 232h5v1h-5zM453 232h3v1h-3zM406 233h5v1h-5zM449 233h4v1h-4zM411 234h6v1h-6zM444 234h5v1h-5zM417 235h10v1h-10zM438 235h6v1h-6zM427 236h11v1h-11zM54 46h1v1h-1zM57 48h1v1h-1zM58 49h1v1h-1zM61 51h1v1h-1zM64 53h1v1h-1zM67 55h1v1h-1zM70 57h1v1h-1zM73 59h1v1h-1zM74 60h1v1h-1zM77 62h1v1h-1zM80 64h1v1h-1zM83 66h1v1h-1zM86 68h1v1h-1zM89 70h1v1h-1zM90 71h1v1h-1zM93 73h1v1h-1zM96 75h1v1h-1zM99 77h1v1h-1zM102 79h1v1h-1zM105 81h1v1h-1zM106 82h1v1h-1zM109 84h1v1h-1zM112 86h1v1h-1zM115 88h1v1h-1zM118 90h1v1h-1zM123 93h1v1h-1zM126 95h1v1h-1zM131 98h1v1h-1zM134 100h1v1h-1zM139 103h1v1h-1zM142 105h1v1h-1zM147 108h1v1h-1zM752 109h1v1h-1zM749 111h1v1h-1zM748 112h1v1h-1zM745 114h1v1h-1zM742 116h1v1h-1zM739 118h1v1h-1zM738 119h1v1h-1zM170 120h1v1h-1zM735 121h1v1h-1zM734 122h1v1h-1zM733 123h1v1h-1zM732 124h1v1h-1zM179 125h1v1h-1zM729 126h1v1h-1zM182 127h1v1h-1zM728 127h1v1h-1zM727 128h1v1h-1zM185 129h1v1h-1zM186 130h1v1h-1zM724 130h1v1h-1zM723 131h1v1h-1zM189 132h1v1h-1zM192 134h1v1h-1zM716 135h1v1h-1zM195 136h1v1h-1zM196 137h1v1h-1zM199 139h1v1h-1zM200 140h1v1h-1zM707 140h1v1h-1zM201 141h1v1h-1zM202 142h1v1h-1zM205 144h1v1h-1zM206 145h1v1h-1zM207 146h1v1h-1zM210 148h1v1h-1zM211 149h1v1h-1zM212 150h1v1h-1zM688 150h1v1h-1zM213 151h1v1h-1zM214 152h1v1h-1zM685 152h1v1h-1zM215 153h1v2h-1zM684 153h1v1h-1zM216 155h1v1h-1zM681 155h1v1h-1zM217 156h1v1h-1zM218 157h1v1h-1zM678 157h1v1h-1zM219 158h1v1h-1zM220 159h1v1h-1zM675 159h1v1h-1zM221 160h1v1h-1zM674 160h1v1h-1zM222 161h1v1h-1zM673 161h1v1h-1zM223 162h1v2h-1zM672 162h1v1h-1zM671 163h1v1h-1zM224 164h1v1h-1zM670 164h1v1h-1zM225 165h1v1h-1zM669 165h1v1h-1zM226 166h1v1h-1zM668 166h1v1h-1zM227 167h1v1h-1zM667 167h1v1h-1zM228 168h1v1h-1zM666 168h1v1h-1zM229 169h1v1h-1zM665 169h1v1h-1zM230 170h1v1h-1zM664 170h1v1h-1zM231 171h1v1h-1zM663 171h1v1h-1zM232 172h1v1h-1zM662 172h1v1h-1zM233 173h1v1h-1zM661 173h1v1h-1zM234 174h1v1h-1zM660 174h1v1h-1zM235 175h1v2h-1zM659 175h1v1h-1zM658 176h1v1h-1zM236 177h1v1h-1zM657 177h1v1h-1zM237 178h1v1h-1zM656 178h1v1h-1zM238 179h1v1h-1zM655 179h1v1h-1zM239 180h1v1h-1zM654 180h1v1h-1zM240 181h1v1h-1zM653 181h1v1h-1zM241 182h1v1h-1zM652 182h1v1h-1zM242 183h1v1h-1zM243 184h1v1h-1zM649 184h1v1h-1zM244 185h1v1h-1zM648 185h1v1h-1zM245 186h1v1h-1zM647 186h1v1h-1zM246 187h1v1h-1zM646 187h1v1h-1zM247 188h1v1h-1zM645 188h1v1h-1zM248 189h1v1h-1zM644 189h1v1h-1zM249 190h1v1h-1zM643 190h1v1h-1zM250 191h1v1h-1zM251 192h1v1h-1zM640 192h1v1h-1zM252 193h1v1h-1zM253 194h1v1h-1zM254 195h1v1h-1zM635 195h1v1h-1zM255 196h1v1h-1zM256 197h1v1h-1zM632 197h1v1h-1zM257 198h1v1h-1zM258 199h1v1h-1zM259 200h1v1h-1zM627 200h1v1h-1zM260 201h1v1h-1zM263 203h1v1h-1zM264 204h1v1h-1zM267 206h1v1h-1zM268 207h1v1h-1zM271 209h1v1h-1zM272 210h1v1h-1zM275 212h1v1h-1zM278 214h1v1h-1zM283 217h1v1h-1zM286 219h1v1h-1z" fill="#FF0000"/>
<rect x="3" y="57" width="933" height="1" fill="#2F4F4F"/>
<rect x="3" y="109" width="933" height="1" fill="#2F4F4F"/>
<rect x="3" y="150" width="933" height="1" fill="#2F4F4F"/>
<rect x="3" y="192" width="933" height="1" fill="#2F4F4F"/>
<rect x="3" y="243" width="933" height="1" fill="#2F4F4F"/>
<rect x="3" y="252" width="933" height="1" fill="#2F4F4F"/>
</g>
<g font-family="'Liberation Sans', sans-serif" font-size="12" style="white-space:pre">
<text x="935" y="55" fill="#2F4F4F" stroke="#2F4F4F" stroke-width="0" text-anchor="end" font-size="12" textLength="25" lengthAdjust="spacingAndGlyphs" >23.6</text>
<text x="935" y="107" fill="#2F4F4F" stroke="#2F4F4F" stroke-width="0" text-anchor="end" font-size="12" textLength="25" lengthAdjust="spacingAndGlyphs" >38.2</text>
<text x="935" y="148" fill="#2F4F4F" stroke="#2F4F4F" stroke-width="0" text-anchor="end" font-size="12" textLength="25" lengthAdjust="spacingAndGlyphs" >50.0</text>
<text x="935" y="190" fill="#2F4F4F" stroke="#2F4F4F" stroke-width="0" text-anchor="end" font-size="12" textLength="25" lengthAdjust="spacingAndGlyphs" >61.8</text>
<text x="935" y="241" fill="#2F4F4F" stroke="#2F4F4F" stroke-width="0" text-anchor="end" font-size="12" textLength="25" lengthAdjust="spacingAndGlyphs" >76.4</text>
<text x="935" y="250" fill="#2F4F4F" stroke="#2F4F4F" stroke-width="0" text-anchor="end" font-size="12" textLength="25" lengthAdjust="spacingAndGlyphs" >23.6</text>
<text x="935" y="323" fill="#2F4F4F" stroke="#2F4F4F" stroke-width="0" text-anchor="end" font-size="12" textLength="31" lengthAdjust="spacingAndGlyphs" clip-path="url(#mainclip)">100.0</text>
</g>
<g shape-rendering="crispEdges">
<rect x="3" y="31" width="929" height="2" fill="#FF7F50"/>
<rect x="707" y="73" width="113" height="2" fill="#FF7F50"/>
<rect x="3" y="76" width="737" height="2" fill="#FF7F50"/>
<rect x="3" y="90" width="849" height="2" fill="#FF7F50"/>
<rect x="3" y="119" width="865" height="2" fill="#FF7F50"/>
<rect x="3" y="133" width="881" height="2" fill="#FF7F50"/>
<rect x="179" y="141" width="737" height="2" fill="#FF7F50"/>
<rect x="3" y="156" width="849" height="2" fill="#FF7F50"/>
<rect x="3" y="174" width="849" height="2" fill="#FF7F50"/>
<rect x="3" y="204" width="897" height="2" fill="#FF7F50"/>
<rect x="3" y="224" width="609" height="2" fill="#FF7F50"/>
<rect x="3" y="238" width="641" height="2" fill="#FF7F50"/>
<rect x="3" y="258" width="609" height="2" fill="#FF7F50"/>
<rect x="3" y="274" width="609" height="2" fill="#FF7F50"/>
<rect x="307" y="291" width="433" height="2" fill="#FF7F50"/>
<rect x="227" y="313" width="481" height="2" fill="#FF7F50"/>
<rect x="852" y="91" width="84" height="1" fill="#74869A"/>
<line x1="2.5" y1="73.3" x2="387.5" y2="277.5" stroke="#FF7F50" stroke-width="2.3"/>
<line x1="131" y1="181.0" x2="852" y2="107.5" stroke="#FF7F50" stroke-width="2"/>
<line x1="259" y1="312.45" x2="820" y2="252.5" stroke="#FF7F50" stroke-width="2"/>
<rect x="4" y="341" width="784" height="2" fill="#FF0000"/>
<rect x="4" y="350" width="800" height="2" fill="#FF4500"/>
<rect x="4" y="369" width="880" height="2" fill="#FF4500"/>
<rect x="4" y="373" width="832" height="2" fill="#008000"/>
<rect x="3" y="400" width="933" height="1" fill="#FF0000"/>
<rect x="4" y="409" width="625" height="2" fill="#FF4500"/>
<rect x="4" y="419" width="672" height="2" fill="#9400D3"/>
<line x1="4" y1="375.6" x2="372" y2="405.1" stroke="#FF7F50" stroke-width="2"/>
<line x1="227" y1="409.0" x2="852" y2="363.5" stroke="#FF7F50" stroke-width="2"/>
<rect x="3" y="470" width="1" height="11" fill="#556B2F"/>
<rect x="18" y="470" width="2" height="10" fill="#556B2F"/>
<rect x="34" y="470" width="2" height="7" fill="#556B2F"/>
<rect x="50" y="470" width="2" height="9" fill="#556B2F"/>
<rect x="66" y="470" width="2" height="14" fill="#556B2F"/>
<rect x="82" y="470" width="2" height="21" fill="#556B2F"/>
<rect x="98" y="470" width="2" height="23" fill="#556B2F"/>
<rect x="114" y="470" width="2" height="25" fill="#556B2F"/>
<rect x="130" y="470" width="2" height="25" fill="#556B2F"/>
<rect x="146" y="470" width="2" height="27" fill="#556B2F"/>
<rect x="162" y="470" width="2" height="22" fill="#556B2F"/>
<rect x="178" y="470" width="2" height="19" fill="#556B2F"/>
<rect x="194" y="470" width="2" height="20" fill="#556B2F"/>
<rect x="210" y="470" width="2" height="20" fill="#556B2F"/>
<rect x="226" y="470" width="2" height="25" fill="#556B2F"/>
<rect x="242" y="470" width="2" height="26" fill="#556B2F"/>
<rect x="258" y="470" width="2" height="20" fill="#556B2F"/>
<rect x="274" y="470" width="2" height="13" fill="#556B2F"/>
<rect x="290" y="470" width="2" height="12" fill="#556B2F"/>
<rect x="306" y="470" width="2" height="1" fill="#556B2F"/>
<rect x="322" y="465" width="2" height="6" fill="#556B2F"/>
<rect x="338" y="461" width="2" height="10" fill="#556B2F"/>
<rect x="354" y="455" width="2" height="16" fill="#556B2F"/>
<rect x="370" y="452" width="2" height="19" fill="#556B2F"/>
<rect x="386" y="452" width="2" height="19" fill="#556B2F"/>
<rect x="402" y="456" width="2" height="15" fill="#556B2F"/>
<rect x="418" y="460" width="2" height="11" fill="#556B2F"/>
<rect x="434" y="463" width="2" height="8" fill="#556B2F"/>
<rect x="450" y="467" width="2" height="4" fill="#556B2F"/>
<rect x="466" y="464" width="2" height="7" fill="#556B2F"/>
<rect x="482" y="458" width="2" height="13" fill="#556B2F"/>
<rect x="498" y="459" width="2" height="12" fill="#556B2F"/>
<rect x="514" y="461" width="2" height="10" fill="#556B2F"/>
<rect x="530" y="462" width="2" height="9" fill="#556B2F"/>
<rect x="546" y="462" width="2" height="9" fill="#556B2F"/>
<rect x="562" y="458" width="2" height="13" fill="#556B2F"/>
<rect x="578" y="452" width="2" height="19" fill="#556B2F"/>
<rect x="594" y="446" width="2" height="25" fill="#556B2F"/>
<rect x="610" y="442" width="2" height="29" fill="#556B2F"/>
<rect x="626" y="445" width="2" height="26" fill="#556B2F"/>
<rect x="642" y="442" width="2" height="29" fill="#556B2F"/>
<rect x="658" y="439" width="2" height="32" fill="#556B2F"/>
<rect x="674" y="439" width="2" height="32" fill="#556B2F"/>
<rect x="690" y="442" width="2" height="29" fill="#556B2F"/>
<rect x="706" y="446" width="2" height="25" fill="#556B2F"/>
<rect x="722" y="452" width="2" height="19" fill="#556B2F"/>
<rect x="738" y="454" width="2" height="17" fill="#556B2F"/>
<rect x="754" y="459" width="2" height="12" fill="#556B2F"/>
<rect x="770" y="465" width="2" height="6" fill="#556B2F"/>
<rect x="786" y="470" width="2" height="2" fill="#556B2F"/>
<rect x="802" y="470" width="2" height="4" fill="#556B2F"/>
<rect x="818" y="470" width="2" height="7" fill="#556B2F"/>
<rect x="834" y="470" width="2" height="6" fill="#556B2F"/>
<path d="M3 465h8v1h-8zM662 465h6v1h-6zM11 466h16v1h-16zM658 466h4v1h-4zM27 467h16v1h-16zM654 467h4v1h-4zM43 468h12v1h-12zM650 468h4v1h-4zM55 469h8v1h-8zM646 469h4v1h-4zM63 470h7v1h-7zM642 470h4v1h-4zM70 471h5v1h-5zM638 471h4v1h-4zM75 472h6v1h-6zM634 472h4v1h-4zM81 473h6v1h-6zM630 473h4v1h-4zM87 474h8v1h-8zM625 474h5v1h-5zM95 475h7v1h-7zM620 475h5v1h-5zM102 476h5v1h-5zM614 476h6v1h-6zM107 477h6v1h-6zM609 477h5v1h-5zM113 478h5v1h-5zM604 478h5v1h-5zM118 479h5v1h-5zM598 479h6v1h-6zM123 480h6v1h-6zM593 480h5v1h-5zM129 481h5v1h-5zM588 481h5v1h-5zM134 482h5v1h-5zM582 482h6v1h-6zM139 483h6v1h-6zM577 483h5v1h-5zM145 484h6v1h-6zM572 484h5v1h-5zM151 485h8v1h-8zM566 485h6v1h-6zM159 486h7v1h-7zM556 486h10v1h-10zM166 487h5v1h-5zM540 487h16v1h-16zM171 488h6v1h-6zM524 488h16v1h-16zM177 489h5v1h-5zM508 489h16v1h-16zM182 490h5v1h-5zM492 490h16v1h-16zM187 491h6v1h-6zM460 491h32v1h-32zM193 492h5v1h-5zM444 492h16v1h-16zM198 493h5v1h-5zM432 493h12v1h-12zM203 494h6v1h-6zM424 494h8v1h-8zM209 495h5v1h-5zM412 495h12v1h-12zM214 496h5v1h-5zM396 496h16v1h-16zM219 497h6v1h-6zM384 497h12v1h-12zM225 498h6v1h-6zM376 498h8v1h-8zM231 499h8v1h-8zM368 499h8v1h-8zM239 500h8v1h-8zM360 500h8v1h-8zM247 501h8v1h-8zM352 501h8v1h-8zM255 502h8v1h-8zM344 502h8v1h-8zM263 503h8v1h-8zM332 503h12v1h-12zM271 504h8v1h-8zM316 504h16v1h-16zM279 505h8v1h-8zM300 505h16v1h-16zM287 506h13v1h-13zM668 464h5v1h-5zM673 463h5v1h-5zM678 462h4v1h-4zM682 461h4v1h-4zM686 460h4v1h-4zM690 459h4v1h-4zM694 458h6v1h-6zM700 457h5v1h-5zM705 456h5v1h-5zM710 455h6v1h-6zM716 454h5v1h-5zM721 453h7v1h-7zM728 452h8v1h-8zM811 452h25v1h-25zM736 451h12v1h-12zM779 451h32v1h-32zM748 450h31v1h-31z" fill="#00BFFF"/>
<path d="M3 471h25v1h-25zM39 471h8v1h-8zM588 471h3v1h-3zM28 470h11v1h-11zM591 470h3v1h-3zM47 472h6v1h-6zM584 472h4v1h-4zM53 473h4v1h-4zM581 473h3v1h-3zM57 474h4v1h-4zM578 474h3v1h-3zM61 475h4v1h-4zM576 475h2v1h-2zM65 476h4v1h-4zM573 476h3v1h-3zM69 477h2v1h-2zM570 477h3v1h-3zM71 478h3v1h-3zM568 478h2v1h-2zM74 479h3v1h-3zM565 479h3v1h-3zM77 480h2v1h-2zM561 480h4v1h-4zM79 481h3v1h-3zM556 481h5v1h-5zM82 482h3v1h-3zM550 482h6v1h-6zM85 483h4v1h-4zM540 483h10v1h-10zM89 484h4v1h-4zM508 484h32v1h-32zM93 485h4v1h-4zM492 485h16v1h-16zM97 486h4v1h-4zM482 486h10v1h-10zM101 487h4v1h-4zM478 487h4v1h-4zM105 488h4v1h-4zM474 488h4v1h-4zM109 489h4v1h-4zM380 489h47v1h-47zM470 489h4v1h-4zM113 490h4v1h-4zM370 490h10v1h-10zM427 490h12v1h-12zM464 490h6v1h-6zM117 491h4v1h-4zM366 491h4v1h-4zM439 491h8v1h-8zM456 491h8v1h-8zM121 492h4v1h-4zM362 492h4v1h-4zM447 492h9v1h-9zM125 493h4v1h-4zM358 493h4v1h-4zM129 494h4v1h-4zM354 494h4v1h-4zM133 495h4v1h-4zM351 495h3v1h-3zM137 496h4v1h-4zM348 496h3v1h-3zM141 497h4v1h-4zM344 497h4v1h-4zM145 498h37v1h-37zM341 498h3v1h-3zM182 499h5v1h-5zM337 499h4v1h-4zM187 500h6v1h-6zM332 500h5v1h-5zM193 501h6v1h-6zM326 501h6v1h-6zM199 502h8v1h-8zM321 502h5v1h-5zM207 503h6v1h-6zM316 503h5v1h-5zM213 504h3v1h-3zM310 504h6v1h-6zM216 505h3v1h-3zM306 505h4v1h-4zM219 506h4v1h-4zM303 506h3v1h-3zM223 507h3v1h-3zM300 507h3v1h-3zM226 508h3v1h-3zM296 508h4v1h-4zM229 509h4v1h-4zM272 509h11v1h-11zM293 509h3v1h-3zM233 510h4v1h-4zM264 510h8v1h-8zM283 510h10v1h-10zM237 511h4v1h-4zM252 511h12v1h-12zM241 512h11v1h-11zM594 469h3v1h-3zM597 468h3v1h-3zM600 467h2v1h-2zM602 466h3v1h-3zM605 465h3v1h-3zM608 464h2v1h-2zM610 463h6v1h-6zM616 462h8v1h-8zM624 461h6v1h-6zM630 460h4v1h-4zM634 459h4v1h-4zM638 458h4v1h-4zM642 457h3v1h-3zM645 456h3v1h-3zM648 455h4v1h-4zM652 454h3v1h-3zM815 454h21v1h-21zM655 453h3v1h-3zM807 453h8v1h-8zM658 452h4v1h-4zM795 452h12v1h-12zM662 451h4v1h-4zM785 451h10v1h-10zM666 450h4v1h-4zM779 450h6v1h-6zM670 449h4v1h-4zM774 449h5v1h-5zM674 448h4v1h-4zM769 448h5v1h-5zM678 447h6v1h-6zM763 447h6v1h-6zM684 446h5v1h-5zM758 446h5v1h-5zM689 445h11v1h-11zM715 445h17v1h-17zM747 445h11v1h-11zM700 444h15v1h-15zM732 444h15v1h-15z" fill="#FF0000"/>
<path d="M3 561h19v1h-19zM63 561h3v1h-3zM128 561h6v1h-6zM301 561h2v1h-2zM22 560h6v1h-6zM59 560h4v1h-4zM303 560h2v1h-2zM28 559h5v1h-5zM56 559h3v1h-3zM305 559h2v1h-2zM33 558h11v1h-11zM53 558h3v1h-3zM307 558h3v1h-3zM44 557h9v1h-9zM310 557h4v1h-4zM66 562h9v1h-9zM120 562h8v1h-8zM134 562h5v1h-5zM172 562h15v1h-15zM299 562h2v1h-2zM75 563h45v1h-45zM139 563h6v1h-6zM156 563h16v1h-16zM187 563h16v1h-16zM297 563h2v1h-2zM145 564h11v1h-11zM203 564h10v1h-10zM295 564h2v1h-2zM213 565h3v1h-3zM293 565h2v1h-2zM216 566h3v1h-3zM284 566h9v1h-9zM219 567h4v1h-4zM274 567h10v1h-10zM223 568h3v1h-3zM270 568h4v1h-4zM226 569h4v1h-4zM266 569h4v1h-4zM230 570h5v1h-5zM262 570h4v1h-4zM235 571h6v1h-6zM252 571h10v1h-10zM241 572h11v1h-11zM314 556h4v1h-4zM318 555h4v1h-4zM322 554h4v1h-4zM450 554h10v1h-10zM326 553h6v1h-6zM447 553h3v1h-3zM460 553h9v1h-9zM332 552h5v1h-5zM443 552h4v1h-4zM469 552h3v1h-3zM337 551h3v1h-3zM440 551h3v1h-3zM472 551h2v1h-2zM545 551h5v1h-5zM833 551h3v1h-3zM340 550h2v1h-2zM437 550h3v1h-3zM474 550h3v1h-3zM541 550h4v1h-4zM550 550h4v1h-4zM827 550h6v1h-6zM434 549h3v1h-3zM477 549h3v1h-3zM537 549h4v1h-4zM554 549h4v1h-4zM822 549h5v1h-5zM343 548h2v1h-2zM431 548h3v1h-3zM480 548h2v1h-2zM533 548h4v1h-4zM558 548h4v1h-4zM818 548h4v1h-4zM429 547h2v1h-2zM482 547h10v1h-10zM529 547h4v1h-4zM562 547h3v1h-3zM815 547h3v1h-3zM346 546h2v1h-2zM426 546h3v1h-3zM492 546h10v1h-10zM525 546h4v1h-4zM565 546h2v1h-2zM811 546h4v1h-4zM423 545h3v1h-3zM502 545h6v1h-6zM521 545h4v1h-4zM567 545h2v1h-2zM808 545h3v1h-3zM421 544h2v1h-2zM508 544h5v1h-5zM517 544h4v1h-4zM569 544h3v1h-3zM805 544h3v1h-3zM350 543h2v1h-2zM418 543h3v1h-3zM513 543h4v1h-4zM572 543h2v1h-2zM801 543h4v1h-4zM415 542h3v1h-3zM574 542h2v1h-2zM795 542h6v1h-6zM353 541h2v1h-2zM411 541h4v1h-4zM576 541h2v1h-2zM790 541h5v1h-5zM355 540h3v1h-3zM408 540h3v1h-3zM578 540h3v1h-3zM785 540h5v1h-5zM358 539h6v1h-6zM405 539h3v1h-3zM581 539h2v1h-2zM779 539h6v1h-6zM364 538h5v1h-5zM395 538h10v1h-10zM583 538h2v1h-2zM774 538h5v1h-5zM369 537h26v1h-26zM585 537h2v1h-2zM767 537h7v1h-7zM587 536h2v1h-2zM759 536h8v1h-8zM589 535h2v1h-2zM753 535h6v1h-6zM591 534h2v1h-2zM747 534h6v1h-6zM593 533h2v1h-2zM742 533h5v1h-5zM595 532h2v1h-2zM735 532h7v1h-7zM597 531h3v1h-3zM727 531h8v1h-8zM600 530h4v1h-4zM721 530h6v1h-6zM604 529h3v1h-3zM717 529h4v1h-4zM607 528h3v1h-3zM713 528h4v1h-4zM610 527h22v1h-22zM709 527h4v1h-4zM632 526h8v1h-8zM705 526h4v1h-4zM640 525h28v1h-28zM699 525h6v1h-6zM668 524h16v1h-16zM694 524h5v1h-5zM684 523h10v1h-10zM342 549h1v1h-1zM345 547h1v1h-1zM348 545h1v1h-1zM349 544h1v1h-1zM352 542h1v1h-1z" fill="#20B2AA"/>
<path d="M3 562h25v1h-25zM107 562h32v1h-32zM326 562h4v1h-4zM28 561h16v1h-16zM91 561h16v1h-16zM330 561h4v1h-4zM44 560h47v1h-47zM334 560h4v1h-4zM139 563h80v1h-80zM322 563h4v1h-4zM219 564h12v1h-12zM318 564h4v1h-4zM231 565h8v1h-8zM314 565h4v1h-4zM239 566h8v1h-8zM310 566h4v1h-4zM247 567h8v1h-8zM304 567h6v1h-6zM255 568h12v1h-12zM296 568h8v1h-8zM267 569h29v1h-29zM338 559h3v1h-3zM341 558h3v1h-3zM344 557h4v1h-4zM348 556h3v1h-3zM351 555h3v1h-3zM354 554h3v1h-3zM357 553h3v1h-3zM360 552h2v1h-2zM362 551h3v1h-3zM365 550h3v1h-3zM491 550h17v1h-17zM368 549h2v1h-2zM475 549h16v1h-16zM508 549h12v1h-12zM370 548h4v1h-4zM465 548h10v1h-10zM520 548h8v1h-8zM374 547h4v1h-4zM461 547h4v1h-4zM528 547h40v1h-40zM378 546h4v1h-4zM457 546h4v1h-4zM568 546h8v1h-8zM382 545h4v1h-4zM453 545h4v1h-4zM576 545h8v1h-8zM386 544h4v1h-4zM449 544h4v1h-4zM584 544h8v1h-8zM833 544h3v1h-3zM390 543h6v1h-6zM443 543h6v1h-6zM592 543h6v1h-6zM827 543h6v1h-6zM396 542h5v1h-5zM438 542h5v1h-5zM598 542h4v1h-4zM822 542h5v1h-5zM401 541h7v1h-7zM431 541h7v1h-7zM602 541h4v1h-4zM817 541h5v1h-5zM408 540h8v1h-8zM423 540h8v1h-8zM606 540h4v1h-4zM813 540h4v1h-4zM416 539h7v1h-7zM610 539h4v1h-4zM809 539h4v1h-4zM614 538h4v1h-4zM805 538h4v1h-4zM618 537h4v1h-4zM801 537h4v1h-4zM622 536h4v1h-4zM795 536h6v1h-6zM626 535h3v1h-3zM790 535h5v1h-5zM629 534h3v1h-3zM783 534h7v1h-7zM632 533h4v1h-4zM775 533h8v1h-8zM636 532h3v1h-3zM769 532h6v1h-6zM639 531h3v1h-3zM763 531h6v1h-6zM642 530h4v1h-4zM758 530h5v1h-5zM646 529h6v1h-6zM751 529h7v1h-7zM652 528h5v1h-5zM743 528h8v1h-8zM657 527h11v1h-11zM735 527h8v1h-8zM668 526h16v1h-16zM727 526h8v1h-8zM684 525h43v1h-43z" fill="#FF0000"/>
<rect x="3" y="13" width="1" height="1" fill="#D2691E"/>
<rect x="3" y="115" width="1" height="1" fill="#D2691E"/>
<rect x="2" y="2" width="935" height="1" fill="#000"/>
<rect x="2" y="322" width="935" height="1" fill="#000"/>
<rect x="2" y="2" width="1" height="321" fill="#000"/>
<rect x="936" y="2" width="1" height="321" fill="#000"/>
<rect x="2" y="324" width="935" height="1" fill="#000"/>
<rect x="2" y="432" width="935" height="1" fill="#000"/>
<rect x="2" y="324" width="1" height="109" fill="#000"/>
<rect x="936" y="324" width="1" height="109" fill="#000"/>
<rect x="2" y="434" width="935" height="1" fill="#000"/>
<rect x="2" y="516" width="935" height="1" fill="#000"/>
<rect x="2" y="434" width="1" height="83" fill="#000"/>
<rect x="936" y="434" width="1" height="83" fill="#000"/>
<rect x="2" y="518" width="935" height="1" fill="#000"/>
<rect x="2" y="576" width="935" height="1" fill="#000"/>
<rect x="2" y="518" width="1" height="59" fill="#000"/>
<rect x="936" y="518" width="1" height="59" fill="#000"/>
<rect x="937" y="9" width="2" height="1" fill="#000"/>
<rect x="937" y="58" width="2" height="1" fill="#000"/>
<rect x="937" y="107" width="2" height="1" fill="#000"/>
<rect x="937" y="156" width="2" height="1" fill="#000"/>
<rect x="937" y="205" width="2" height="1" fill="#000"/>
<rect x="937" y="254" width="2" height="1" fill="#000"/>
<rect x="937" y="303" width="2" height="1" fill="#000"/>
<rect x="937" y="326" width="2" height="1" fill="#000"/>
<rect x="937" y="357" width="2" height="1" fill="#000"/>
<rect x="937" y="431" width="2" height="1" fill="#000"/>
<rect x="937" y="470" width="2" height="1" fill="#000"/>
<rect x="937" y="531" width="2" height="1" fill="#000"/>
<rect x="937" y="564" width="2" height="1" fill="#000"/>
<rect x="3" y="577" width="1" height="3" fill="#000"/>
<rect x="99" y="577" width="1" height="3" fill="#000"/>
<rect x="195" y="577" width="1" height="3" fill="#000"/>
<rect x="291" y="577" width="1" height="3" fill="#000"/>
<rect x="387" y="577" width="1" height="3" fill="#000"/>
<rect x="483" y="577" width="1" height="3" fill="#000"/>
<rect x="579" y="577" width="1" height="3" fill="#000"/>
<rect x="675" y="577" width="1" height="3" fill="#000"/>
<rect x="771" y="577" width="1" height="3" fill="#000"/>
<rect x="938" y="84" width="56" height="14" fill="#000"/>
<rect x="938" y="394" width="56" height="14" fill="#FF0000"/>
</g>
<g font-family="'Liberation Sans', sans-serif" font-size="12" style="white-space:pre">
<text x="943.5" y="13.7" fill="#000" stroke="#000" stroke-width="0.2" text-anchor="start" font-size="12" textLength="45" lengthAdjust="spacingAndGlyphs" >1.18630</text>
<text x="943.5" y="62.7" fill="#000" stroke="#000" stroke-width="0.2" text-anchor="start" font-size="12" textLength="45" lengthAdjust="spacingAndGlyphs" >1.17900</text>
<text x="943.5" y="111.7" fill="#000" stroke="#000" stroke-width="0.2" text-anchor="start" font-size="12" textLength="45" lengthAdjust="spacingAndGlyphs" >1.17170</text>
<text x="943.5" y="160.7" fill="#000" stroke="#000" stroke-width="0.2" text-anchor="start" font-size="12" textLength="45" lengthAdjust="spacingAndGlyphs" >1.16440</text>
<text x="943.5" y="209.7" fill="#000" stroke="#000" stroke-width="0.2" text-anchor="start" font-size="12" textLength="45" lengthAdjust="spacingAndGlyphs" >1.15720</text>
<text x="943.5" y="258.7" fill="#000" stroke="#000" stroke-width="0.2" text-anchor="start" font-size="12" textLength="45" lengthAdjust="spacingAndGlyphs" >1.14990</text>
<text x="943.5" y="307.7" fill="#000" stroke="#000" stroke-width="0.2" text-anchor="start" font-size="12" textLength="45" lengthAdjust="spacingAndGlyphs" >1.14260</text>
<text x="943.5" y="95.7" fill="#fff" stroke="#fff" stroke-width="0.2" text-anchor="start" font-size="12" textLength="45" lengthAdjust="spacingAndGlyphs" >1.17414</text>
<text x="940" y="338" fill="#000" stroke="#000" stroke-width="0.2" text-anchor="start" font-size="12" textLength="20" lengthAdjust="spacingAndGlyphs" >100</text>
<text x="940" y="361.7" fill="#000" stroke="#000" stroke-width="0.2" text-anchor="start" font-size="12" textLength="13" lengthAdjust="spacingAndGlyphs" >70</text>
<text x="940" y="428.5" fill="#000" stroke="#000" stroke-width="0.2" text-anchor="start" font-size="12" textLength="6.5" lengthAdjust="spacingAndGlyphs" >0</text>
<text x="942.7" y="405" fill="#fff" stroke="#fff" stroke-width="0.2" text-anchor="start" font-size="12" textLength="45.5" lengthAdjust="spacingAndGlyphs" >29.9517</text>
<text x="940" y="447.5" fill="#000" stroke="#000" stroke-width="0.2" text-anchor="start" font-size="12" textLength="45.5" lengthAdjust="spacingAndGlyphs" >0.00695</text>
<text x="940" y="474.7" fill="#000" stroke="#000" stroke-width="0.2" text-anchor="start" font-size="12" textLength="24" lengthAdjust="spacingAndGlyphs" >0.00</text>
<text x="940.5" y="512.8" fill="#000" stroke="#000" stroke-width="0.2" text-anchor="start" font-size="12" textLength="56.3" lengthAdjust="spacingAndGlyphs" >-0.009373</text>
<text x="940" y="532" fill="#000" stroke="#000" stroke-width="0.2" text-anchor="start" font-size="12" textLength="20" lengthAdjust="spacingAndGlyphs" >100</text>
<text x="939" y="536" fill="#000" stroke="#000" stroke-width="0.2" text-anchor="start" font-size="12" textLength="13" lengthAdjust="spacingAndGlyphs" >80</text>
<text x="940" y="569" fill="#000" stroke="#000" stroke-width="0.2" text-anchor="start" font-size="12" textLength="13" lengthAdjust="spacingAndGlyphs" >20</text>
<text x="941" y="572.8" fill="#000" stroke="#000" stroke-width="0.2" text-anchor="start" font-size="12" textLength="6.5" lengthAdjust="spacingAndGlyphs" >0</text>
<text x="1.8" y="592" fill="#000" stroke="#000" stroke-width="0.2" text-anchor="start" font-size="12" textLength="70" lengthAdjust="spacingAndGlyphs" >25 Feb 2026</text>
<text x="97.8" y="592" fill="#000" stroke="#000" stroke-width="0.2" text-anchor="start" font-size="12" textLength="61.5" lengthAdjust="spacingAndGlyphs" >4 Mar 2026</text>
<text x="193.8" y="592" fill="#000" stroke="#000" stroke-width="0.2" text-anchor="start" font-size="12" textLength="68.8" lengthAdjust="spacingAndGlyphs" >11 Mar 2026</text>
<text x="289.8" y="592" fill="#000" stroke="#000" stroke-width="0.2" text-anchor="start" font-size="12" textLength="68.8" lengthAdjust="spacingAndGlyphs" >18 Mar 2026</text>
<text x="385.8" y="592" fill="#000" stroke="#000" stroke-width="0.2" text-anchor="start" font-size="12" textLength="68.5" lengthAdjust="spacingAndGlyphs" >25 Mar 2026</text>
<text x="481.8" y="592" fill="#000" stroke="#000" stroke-width="0.2" text-anchor="start" font-size="12" textLength="62.2" lengthAdjust="spacingAndGlyphs" >1 Apr 2026</text>
<text x="577.8" y="592" fill="#000" stroke="#000" stroke-width="0.2" text-anchor="start" font-size="12" textLength="61.5" lengthAdjust="spacingAndGlyphs" >8 Apr 2026</text>
<text x="674.5" y="592" fill="#000" stroke="#000" stroke-width="0.2" text-anchor="start" font-size="12" textLength="67.8" lengthAdjust="spacingAndGlyphs" >15 Apr 2026</text>
<text x="769.8" y="592" fill="#000" stroke="#000" stroke-width="0.2" text-anchor="start" font-size="12" textLength="68.5" lengthAdjust="spacingAndGlyphs" >22 Apr 2026</text>
</g>
</svg>
</body>
</html>
